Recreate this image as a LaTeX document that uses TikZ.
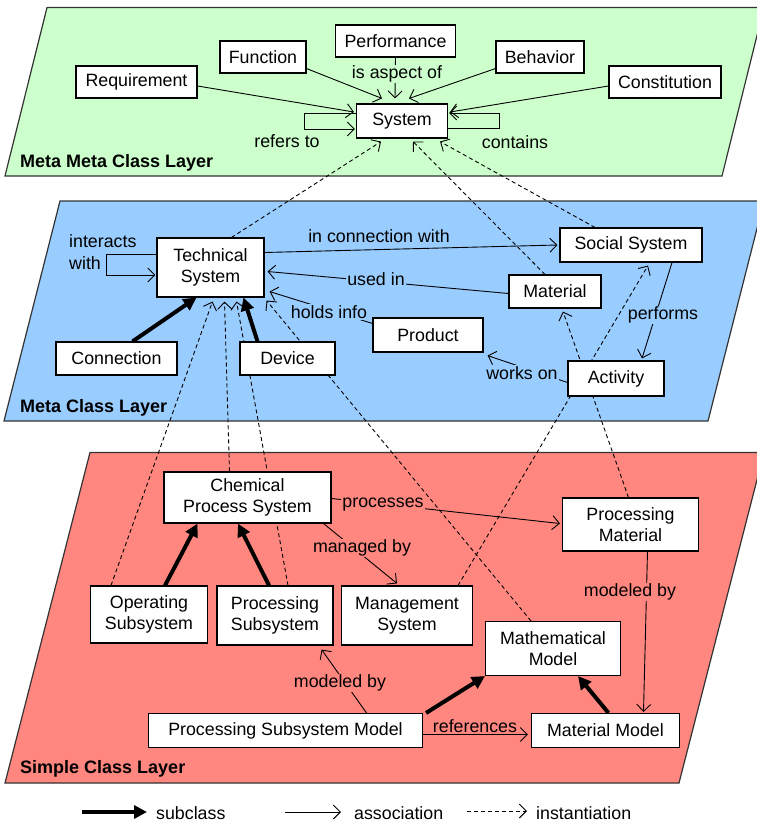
\documentclass[tikz,border=0pt]{standalone}
\usepackage{fontspec}
\setmainfont{Liberation Sans}
\usetikzlibrary{arrows.meta,calc}
\pgfdeclarelayer{back}
\pgfdeclarelayer{wires}
\pgfsetlayers{back,wires,main}

\definecolor{mmgreen}{HTML}{CCFFCC}
\definecolor{mblue}{HTML}{99CCFF}
\definecolor{sred}{HTML}{FF877F}
\definecolor{edgegray}{HTML}{333333}

\begin{document}
\begin{tikzpicture}[x=1pt,y=-1pt,
  every node/.style={font=\fontsize{17.8}{21.5}\selectfont},
  cls/.style={draw=black, line width=1.1pt, fill=white, inner sep=0pt, align=center},
  layerlbl/.style={font=\fontsize{18}{21}\selectfont\bfseries, anchor=west, inner sep=0pt},
  layerbox/.style={draw=edgegray, line width=1.2pt},
  assoc/.style={line width=0.9pt, -{Straight Barb[length=7pt,width=14pt,line width=0.9pt]}},
  inst/.style={line width=0.9pt, dash pattern=on 4pt off 3pt, -{Straight Barb[length=7pt,width=14pt,line width=0.9pt]}},
  sub/.style={line width=4pt, -{Triangle[length=13pt,width=13pt]}},
  rel/.style={inner sep=1pt, fill=#1},
  plain/.style={inner sep=1pt},
]
\useasboundingbox (0,0) rectangle (757,823);

% ---------- layer planes ----------
\begin{pgfonlayer}{back}
  \fill[white] (0,0) rectangle (757,823);
  \draw[layerbox, fill=mmgreen] (47,7.5) -- (764,7.5) -- (722,176) -- (5,176) -- cycle;
  \draw[layerbox, fill=mblue]   (60,201) -- (764,201) -- (708,421) -- (4,421) -- cycle;
  \draw[layerbox, fill=sred]    (90,452.5) -- (764,452.5) -- (679,783) -- (5,783) -- cycle;
\end{pgfonlayer}

\node[layerlbl] (lmm) at (20,163) {Meta Meta Class Layer};
\node[layerlbl] (lm)  at (20,408) {Meta Class Layer};
\node[layerlbl] (ls)  at (20,769) {Simple Class Layer};

% ---------- meta meta class layer ----------
\node[cls, minimum width=121pt, minimum height=32pt] (req)  at (136.5,82) {Requirement};
\node[cls, minimum width=86pt,  minimum height=32pt] (fun)  at (263,57)   {Function};
\node[cls, minimum width=120pt, minimum height=32pt] (perf) at (395.5,41) {Performance};
\node[cls, minimum width=88pt,  minimum height=32pt] (beh)  at (540,57)   {Behavior};
\node[cls, minimum width=112pt, minimum height=32pt] (con)  at (665,82)   {Constitution};
\node[cls, minimum width=91pt,  minimum height=34pt] (sys)  at (402,121)  {System};

% ---------- meta class layer ----------
\node[cls, minimum width=107pt, minimum height=59pt] (tech) at (210.5,267.5) {Technical\\System};
\node[cls, minimum width=142pt, minimum height=34pt] (soc)  at (631,245)     {Social System};
\node[cls, minimum width=92pt,  minimum height=33pt] (mat)  at (555,291.5)   {Material};
\node[cls, minimum width=110pt, minimum height=34pt] (prod) at (428,335)     {Product};
\node[cls, minimum width=121pt, minimum height=33pt] (conn) at (116.5,358.5) {Connection};
\node[cls, minimum width=95pt,  minimum height=33pt] (dev)  at (287.5,358.5) {Device};
\node[cls, minimum width=96pt,  minimum height=35pt] (act)  at (616,378.5)   {Activity};

% ---------- simple class layer ----------
\node[cls, minimum width=167pt, minimum height=51pt] (cps) at (247.5,497.5) {Chemical\\Process System};
\node[cls, minimum width=136pt, minimum height=53pt] (pm)  at (630.5,524.5) {Processing\\Material};
\node[cls, minimum width=117pt, minimum height=57pt] (ops) at (149,614.5)   {Operating\\Subsystem};
\node[cls, minimum width=116pt, minimum height=59pt] (pss) at (275,615.5)   {Processing\\Subsystem};
\node[cls, minimum width=131pt, minimum height=59pt] (mgs) at (407,615.5)   {Management\\System};
\node[cls, minimum width=135pt, minimum height=54pt] (mm)  at (553,648.5)   {Mathematical\\Model};
\node[cls, minimum width=274pt, minimum height=34pt] (psm) at (285.5,730.5) {Processing Subsystem Model};
\node[cls, minimum width=148pt, minimum height=34pt] (mtm) at (605.5,730.5) {Material Model};

% ---------- relation labels ----------
\node[rel=mmgreen] (lasp) at (397,74)  {is aspect of};
\node[plain]       (lref) at (287,141) {refers to};
\node[plain]       (lcon) at (515,142) {contains};

\node[plain, align=left, anchor=west] (lint) at (68,252) {interacts\\with};
\node[plain]       (licw) at (379,236) {in connection with};
\node[rel=mblue]   (luse) at (376,279) {used in};
\node[rel=mblue]   (lhld) at (329,312) {holds info};
\node[rel=mblue]   (lwrk) at (522,373) {works on};
\node[rel=mblue]   (lprf) at (663,315) {performs};

\node[rel=sred]    (lprc) at (383,505) {processes};
\node[rel=sred]    (lmgd) at (362,548) {managed by};
\node[rel=sred]    (lmd1) at (630,592) {modeled by};
\node[rel=sred]    (lmd2) at (340,683) {modeled by};
\node[plain]       (lrfs) at (475,726) {references};

% ---------- connectors ----------
\begin{pgfonlayer}{wires}
  % meta meta class layer
  \draw[assoc] ($(req.east)+(0,4)$) -- ($(sys.west)+(-2,-9)$);
  \draw[assoc] ($(con.west)+(0,4)$) -- ($(sys.east)+(2,-9)$);
  \draw[assoc] ($(fun.south east)+(0,-5)$) -- ($(sys.north)+(-20,-5)$);
  \draw[assoc] (perf.south) -- ($(sys.north)+(-7,-5)$);
  \draw[assoc] ($(beh.south west)+(0,-5)$) -- ($(sys.north)+(7,-5)$);
  \draw[assoc] ($(sys.west)+(0,-8)$) -- ++(-52,0) -- ++(0,16) -- ($(sys.west)+(-1,8)$);
  \draw[assoc] ($(sys.east)+(0,7)$) -- ++(51,0) -- ++(0,-15) -- ($(sys.east)+(1,-8)$);

  % instantiation of System
  \draw[inst] ($(tech.north)+(21,0)$) -- ($(sys.south)+(-21,3)$);
  \draw[inst] ($(mat.north)+(-10,0)$) -- ($(sys.south)+(11,3)$);
  \draw[inst] ($(soc.north)+(-36,0)$) -- ($(sys.south east)+(-8,3)$);

  % meta class layer
  \draw[assoc] ($(tech.west)+(0,-13.5)$) -- ++(-50,0) -- ++(0,21) -- ($(tech.west)+(-1,7.5)$);
  \draw[assoc] ($(tech.east)+(0,-15)$) -- ($(soc.west)+(-2,0)$);
  \draw[assoc] ($(mat.west)+(0,2)$) -- ($(tech.east)+(3,4)$);
  \draw[assoc] ($(prod.north west)+(0,6)$) -- ($(tech.south east)+(5,-6)$);
  \draw[assoc] ($(act.west)+(0,4)$) -- ($(prod.south east)+(4,3)$);
  \draw[assoc] ($(soc.south)+(41,0)$) -- ($(act.north)+(26,-2)$);
  \draw[sub] ($(conn.north)+(16,0)$) -- ($(tech.south)+(-14,0)$);
  \draw[sub] ($(dev.north)+(-30,0)$) -- ($(tech.south)+(33,0)$);

  % instantiation of the meta classes
  \draw[inst] ($(ops.north)+(-38,0)$) -- ($(tech.south)+(2,4)$);
  \draw[inst] ($(cps.north)+(-18,0)$) -- ($(tech.south)+(14,4)$);
  \draw[inst] ($(pss.north)+(13,0)$) -- ($(tech.south)+(26,4)$);
  \draw[inst] ($(mm.north)+(-22,0)$) -- ($(tech.south east)+(2,3)$);
  \draw[inst] ($(mgs.north east)+(-15,0)$) -- ($(soc.south)+(17,3)$);
  \draw[inst] ($(pm.north)+(-2,0)$) -- ($(mat.south)+(8,3)$);

  % simple class layer
  \draw[sub] ($(ops.north)+(16,0)$) -- ($(cps.south)+(-50,0)$);
  \draw[sub] ($(pss.north)+(-6,0)$) -- ($(cps.south)+(-9.5,0)$);
  \draw[assoc] ($(cps.east)+(0,1)$) -- ($(pm.west)+(-2,-1)$);
  \draw[assoc] ($(cps.south east)+(-8,0)$) -- ($(mgs.north)+(-10,-2)$);
  \draw[assoc] ($(pm.south)+(17,0)$) -- ($(mtm.north)+(38,-1)$);
  \draw[assoc] ($(psm.north)+(81,0)$) -- ($(pss.south east)+(-12,4)$);
  \draw[sub] ($(psm.north east)+(3,0)$) -- ($(mm.south west)+(0,0)$);
  \draw[sub] ($(mtm.north)+(3,0)$) -- ($(mm.south)+(25,0)$);
  \draw[assoc] ($(psm.east)+(0,4)$) -- ($(mtm.west)+(-3,4)$);
\end{pgfonlayer}

% ---------- legend ----------
\coordinate (k1a) at (82,812);  \coordinate (k1b) at (147,812);
\coordinate (k2a) at (285,812); \coordinate (k2b) at (341,812);
\coordinate (k3a) at (467,811); \coordinate (k3b) at (527,811);
\draw[sub]   (k1a) -- (k1b);
\draw[assoc] (k2a) -- (k2b);
\draw[inst]  (k3a) -- (k3b);
\node[plain, anchor=west] (t1) at (155,813) {subclass};
\node[plain, anchor=west] (t2) at (353,813) {association};
\node[plain, anchor=west] (t3) at (535,813) {instantiation};
\end{tikzpicture}
\end{document}
